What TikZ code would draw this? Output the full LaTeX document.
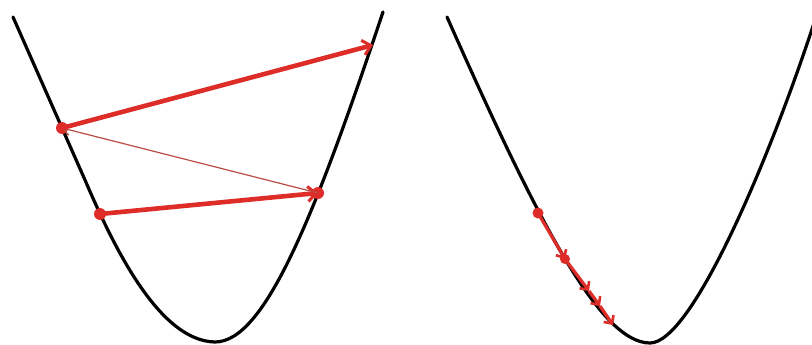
\documentclass[tikz,border=0pt]{standalone}
\usetikzlibrary{arrows.meta}
\definecolor{redline}{RGB}{222,45,40}
\definecolor{thinred}{RGB}{185,75,65}
\tikzset{
  curve/.style={black,line width=3.2pt,line cap=round},
  thickarrow/.style={redline,line width=4.6pt,-{Straight Barb[length=8pt,width=15pt,line width=3pt]}},
  thinarrow/.style={thinred,line width=1.2pt,-{Straight Barb[length=7pt,width=11pt,line width=1.4pt]}},
  smallarrow/.style={redline,line width=3.2pt,-{Straight Barb[length=6pt,width=12pt,line width=2.6pt]}},
  dotnode/.style={circle,fill=redline,inner sep=0pt,minimum size=#1},
  dotnode/.default=12pt
}
\begin{document}
\begin{tikzpicture}[x=1pt,y=-1pt]
\useasboundingbox (0,0) rectangle (812,345);
% left valley
\draw[curve] (13,17) -- (85,180) .. controls (115,250) and (160,341) .. (215,342)
  .. controls (265,342) and (315,215) .. (383,12);
% right valley
\draw[curve] (447,17) .. controls (538,222) and (600,343) .. (650,343)
  .. controls (692,343) and (770,158) .. (815,20);
% left: large learning rate
\node[dotnode] (p1) at (100,214) {};
\node[dotnode] (p2) at (318,193) {};
\node[dotnode] (p3) at (62,128) {};
\coordinate (p4) at (373,45);
\draw[thickarrow] (p1.center) -- (p2.center);
\draw[thinarrow] (p2.center) -- (p3.center);
\draw[thickarrow] (p3.center) -- (p4);
% right: small learning rate
\node[dotnode=11pt] (q1) at (538,213) {};
\node[dotnode=10pt] (q2) at (565,259) {};
\coordinate (q3) at (589,291);
\coordinate (q4) at (600,306);
\coordinate (q5) at (613,325);
\draw[smallarrow] (q1.center) -- (q2.center);
\draw[smallarrow] (q2.center) -- (q3);
\draw[smallarrow] (q3) -- (q4);
\draw[smallarrow] (q4) -- (q5);
\end{tikzpicture}
\end{document}
